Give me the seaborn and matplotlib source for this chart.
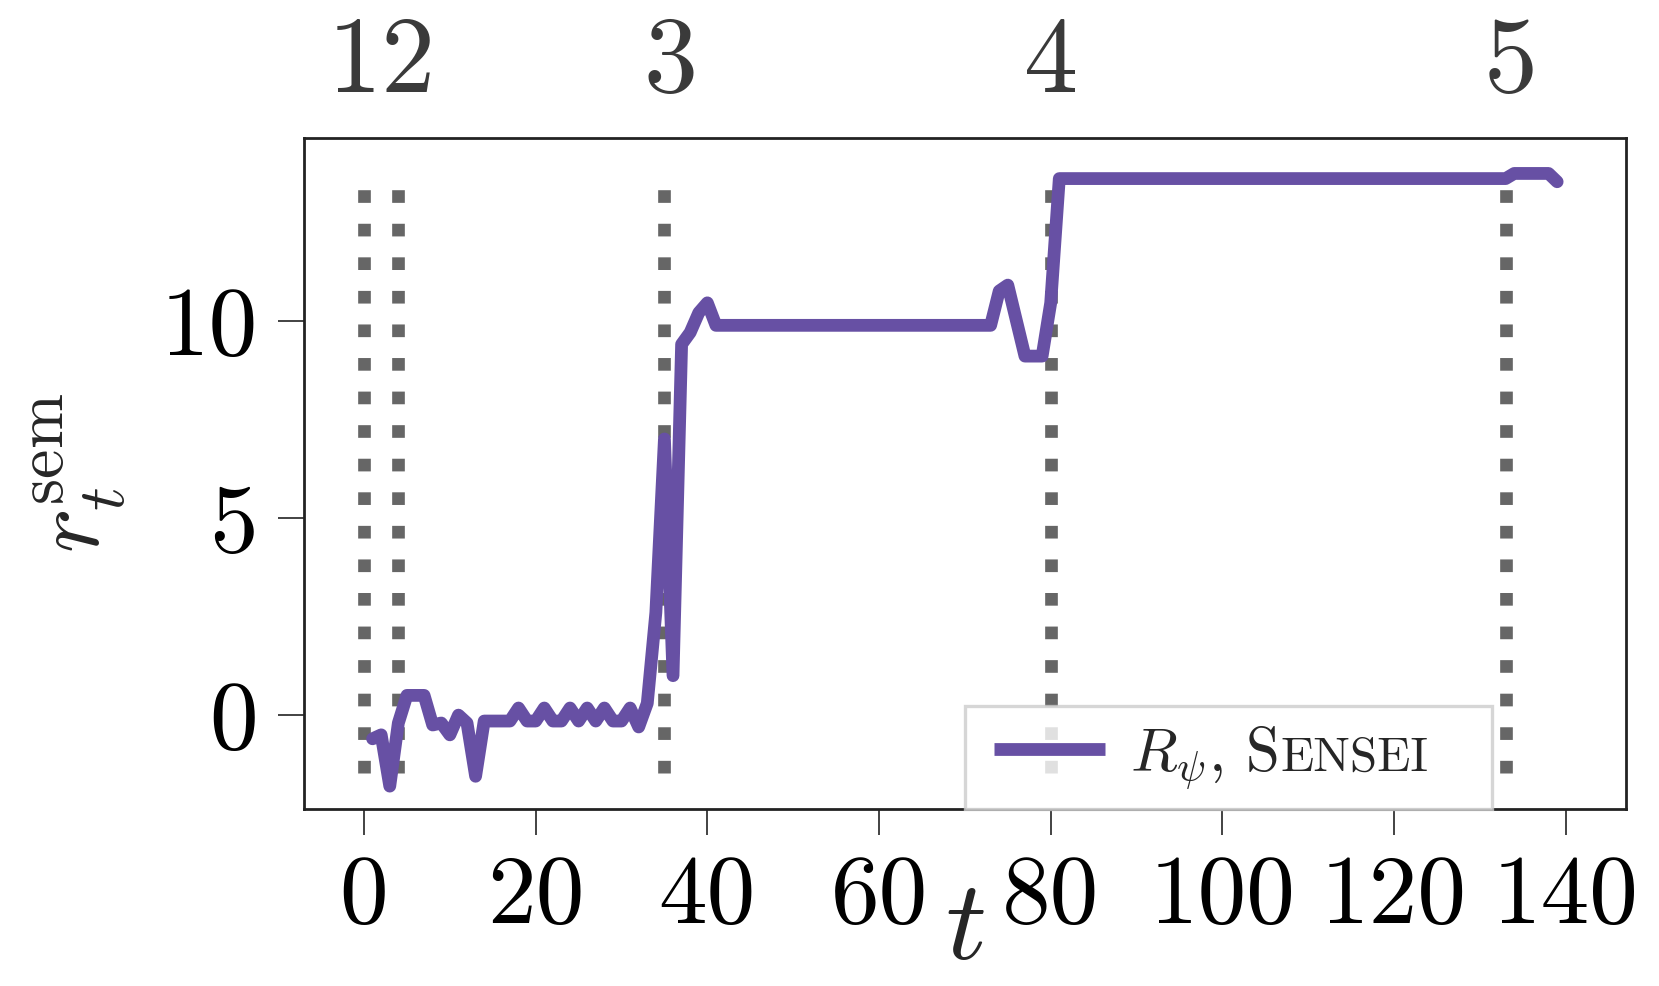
import matplotlib
matplotlib.use("Agg")
import matplotlib.pyplot as plt
from matplotlib.legend_handler import HandlerLine2D
import seaborn as sns
import pandas as pd

# ---------------- data ----------------
t_steps = list(range(1, 140))
r_sem = (
    [-0.6, -0.5, -1.8, -0.2, 0.5, 0.5, 0.5, -0.25, -0.2, -0.5, 0.0, -0.2, -1.55]
    + [-0.15] * 4
    + [0.18, -0.15, -0.15, 0.18, -0.15, -0.15, 0.18, -0.15, 0.18, -0.15, 0.18,
       -0.15, -0.15, 0.18, -0.3, 0.3, 2.6, 7.0, 1.0, 9.4, 9.7, 10.2, 10.45]
    + [9.88] * 33
    + [10.75, 10.9, 10.0, 9.1, 9.1, 9.1, 10.45]
    + [13.6] * 53
    + [13.73] * 5
    + [13.52]
)
vline_t = [0, 4, 35, 80, 133]
top_tick_pos = [2.1, 35.7, 80, 133.6]
top_tick_labels = ["12", "3", "4", "5"]
x_ticks = [0, 20, 40, 60, 80, 100, 120, 140]
y_ticks = [0, 5, 10]
series_label = r"$R_\psi$, S"
series_label_sc = "ENSEI"

df = pd.DataFrame({"t": t_steps, "r": r_sem})

# ---------------- style ----------------
sns.set_theme(style="ticks")
plt.rcParams.update({
    "font.family": ["cmr10", "DejaVu Serif"],
    "mathtext.fontset": "cm",
    "axes.formatter.use_mathtext": True,
    "axes.edgecolor": "#222222",
    "axes.linewidth": 1.0,
})

DPI = 200
fig = plt.figure(figsize=(1659 / DPI, 986 / DPI), dpi=DPI)
ax = fig.add_axes([0.1832, 0.1795, 0.7968, 0.681])

purple = "#6750a4"
for xv in vline_t:
    ax.axvline(xv, ymin=0.0535, ymax=0.935, color="#666666", linestyle=":",
               linewidth=4.56, zorder=1)

sns.lineplot(data=df, x="t", y="r", ax=ax, color=purple, linewidth=4.6,
             label=series_label, zorder=3, legend=False)

ax.set_xlim(-7, 147)
ax.set_ylim(-2.38, 14.64)
ax.set_xticks(x_ticks)
ax.set_xticklabels([str(v) for v in x_ticks])
ax.set_yticks(y_ticks)
ax.set_yticklabels([str(v) for v in y_ticks])
ax.tick_params(axis="both", which="major", labelsize=35, length=9.5, width=0.6,
               pad=7, colors="#222222", labelcolor="black",
               top=False, right=False)

ax.set_xlabel(r"$t$", fontsize=41, labelpad=-22)
ax.set_ylabel(r"$r_t^{\mathrm{sem}}$", fontsize=34, labelpad=12)

sec = ax.secondary_xaxis("top")
sec.set_xticks(top_tick_pos)
sec.set_xticklabels(top_tick_labels)
sec.tick_params(axis="x", length=0, labelsize=39, labelcolor="#3a3a3a", pad=9)
sec.spines["top"].set_visible(False)

leg = ax.legend(handles=ax.get_lines()[-1:], labels=[series_label],
                loc="lower left", bbox_to_anchor=(0.5, 0.0, 0.399, 0.2),
                mode="expand", borderaxespad=0, fontsize=22, frameon=True,
                fancybox=False, edgecolor="#cccccc", framealpha=0.8,
                handlelength=2.0, handletextpad=0.4, borderpad=0.3,
                handler_map={matplotlib.lines.Line2D: HandlerLine2D(xpad=0.18)})
leg.get_frame().set_linewidth(1.2)
for hl in leg.get_lines():
    hl.set_solid_capstyle("butt")

# small-caps tail of the legend label
fig.canvas.draw()
renderer = fig.canvas.get_renderer()
txt = leg.get_texts()[0]
bb = txt.get_window_extent(renderer)
_, _, desc = renderer.get_text_width_height_descent(
    txt.get_text(), txt.get_fontproperties(), ismath=True)
fig.text(bb.x1 / fig.bbox.width + 0.0015, (bb.y0 + desc) / fig.bbox.height,
         series_label_sc, fontsize=17.6, va="baseline", ha="left",
         family=["cmr10", "DejaVu Serif"], zorder=10)

fig.savefig("out.png", dpi=DPI)
